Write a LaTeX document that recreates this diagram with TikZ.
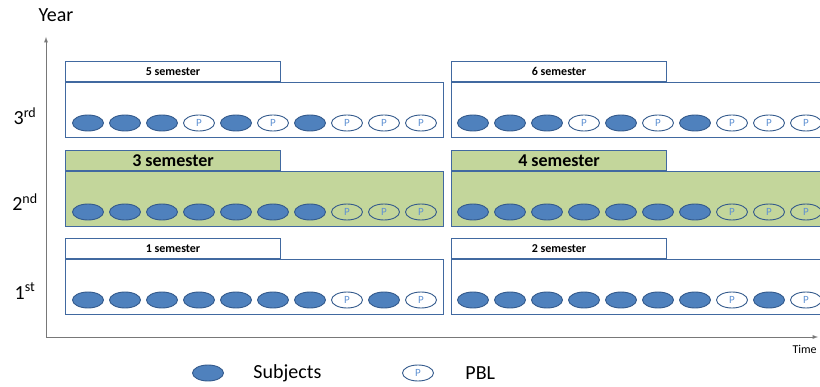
\documentclass[tikz,border=0pt]{standalone}
\usepackage{fontspec}
\setmainfont{Carlito}
\usetikzlibrary{shapes,arrows,positioning,calc}
\definecolor{boxline}{RGB}{65,105,160}
\definecolor{subjfill}{RGB}{79,129,189}
\definecolor{subjline}{RGB}{52,90,140}
\definecolor{pbltext}{RGB}{95,145,210}
\definecolor{greenfill}{RGB}{195,214,155}
\definecolor{axisgray}{RGB}{120,120,120}
\tikzset{
    sembox/.style={draw=boxline,line width=1.1pt,minimum width=378pt,minimum height=55pt,anchor=north west,inner sep=0pt},
    greenbox/.style={sembox,fill=greenfill},
    tab/.style={draw=boxline,line width=1.1pt,minimum width=215pt,minimum height=20pt,anchor=south west,inner sep=0pt,font=\bfseries\fontsize{12}{12}\selectfont},
    bigtab/.style={tab,fill=greenfill,font=\bfseries\fontsize{18}{18}\selectfont},
    subj/.style={draw=subjline,fill=subjfill,ellipse,line width=0.9pt,minimum width=31pt,minimum height=16pt,inner sep=0pt},
    pbl/.style={draw=subjline,ellipse,line width=0.9pt,minimum width=31pt,minimum height=16pt,inner sep=0pt,
        label={[text=pbltext,font=\fontsize{11}{11}\selectfont,inner sep=0pt]center:P}},
    axis/.style={draw=axisgray,line width=0.9pt,-latex},
    yearlbl/.style={font=\fontsize{20}{20}\selectfont},
}
% row of ovals: name, first centre x, centre y, list of styles
\newcommand{\ovals}[4]{%
    \foreach \st [count=\i from 0] in {#4}
        \node[\st] (#1-\i) at ({#2+37*\i},#3) {};
}
\begin{document}
\begin{tikzpicture}[x=1pt,y=-1pt]
    \useasboundingbox (0,0) rectangle (820,387);
    \clip (0,0) rectangle (820,387);
    % axes
    \coordinate (o) at (46,337);
    \coordinate (ytip) at (46,37);
    \coordinate (xtip) at (818,337);
    \draw[axis] (o) -- (ytip);
    \draw[axis] (o) -- (xtip);
    \node[yearlbl] (year) at (56,15) {Year};
    \node[anchor=west,font=\fontsize{12}{12}\selectfont] (time) at (789,349) {Time};
    \node[yearlbl] (y3) at (25,116) {3\textsuperscript{rd}};
    \node[yearlbl] (y2) at (25,202) {2\textsuperscript{nd}};
    \node[yearlbl] (y1) at (25,291) {1\textsuperscript{st}};
    % 3rd year
    \node[sembox] (s5) at (65,82) {};
    \node[tab] (t5) at (s5.north west) {5 semester};
    \ovals{a}{88}{123}{subj,subj,subj,pbl,subj,pbl,subj,pbl,pbl,pbl}
    \node[sembox] (s6) at (451,82) {};
    \node[tab] (t6) at (s6.north west) {6 semester};
    \ovals{b}{473}{123}{subj,subj,subj,pbl,subj,pbl,subj,pbl,pbl,pbl}
    % 2nd year
    \node[greenbox] (s3) at (65,171) {};
    \node[bigtab] (t3) at (s3.north west) {3 semester};
    \ovals{c}{88}{212}{subj,subj,subj,subj,subj,subj,subj,pbl,pbl,pbl}
    \node[greenbox] (s4) at (451,171) {};
    \node[bigtab] (t4) at (s4.north west) {4 semester};
    \ovals{d}{473}{212}{subj,subj,subj,subj,subj,subj,subj,pbl,pbl,pbl}
    % 1st year
    \node[sembox] (s1) at (65,259) {};
    \node[tab] (t1) at (s1.north west) {1 semester};
    \ovals{e}{88}{300}{subj,subj,subj,subj,subj,subj,subj,pbl,subj,pbl}
    \node[sembox] (s2) at (451,259) {};
    \node[tab] (t2) at (s2.north west) {2 semester};
    \ovals{f}{473}{300}{subj,subj,subj,subj,subj,subj,subj,pbl,subj,pbl}
    % legend
    \node[subj] (lgs) at (208,373) {};
    \node[yearlbl,right=26pt of lgs] (lgstext) {Subjects};
    \node[pbl] (lgp) at (418,373) {};
    \node[yearlbl,right=28pt of lgp] (lgptext) {PBL};
\end{tikzpicture}
\end{document}
